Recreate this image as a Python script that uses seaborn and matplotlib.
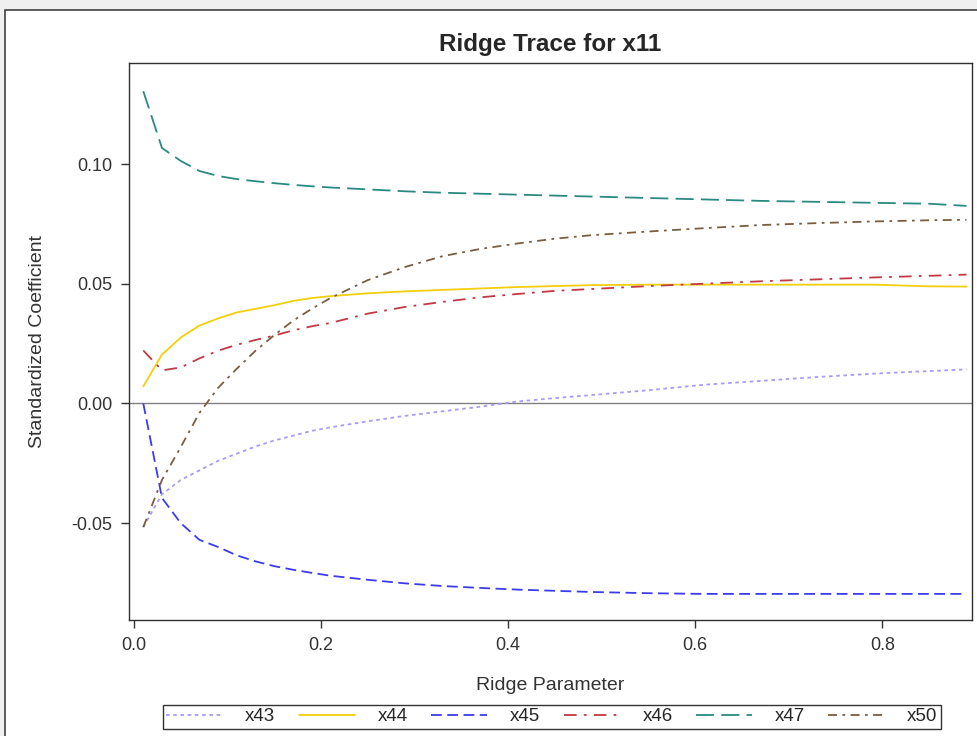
import pandas as pd
import matplotlib
matplotlib.use("Agg")
import matplotlib.pyplot as plt
import seaborn as sns
from matplotlib.patches import Rectangle

# ridge parameter values (x axis)
ridge_k = [0.01, 0.03, 0.05, 0.07, 0.09, 0.11, 0.13, 0.15, 0.17, 0.19, 0.21,
           0.25, 0.29, 0.33, 0.37, 0.41, 0.45, 0.49, 0.55, 0.61, 0.67, 0.73,
           0.79, 0.85, 0.89]

x43 = [-0.0517, -0.0380, -0.0320, -0.0280, -0.0240, -0.0210, -0.0180, -0.0155,
       -0.0135, -0.0115, -0.0100, -0.0075, -0.0052, -0.0033, -0.0014, 0.0008,
       0.0022, 0.0035, 0.0055, 0.0078, 0.0094, 0.0110, 0.0124, 0.0135, 0.0142]
x44 = [0.0071, 0.0204, 0.0275, 0.0325, 0.0355, 0.0380, 0.0395, 0.0410, 0.0428,
       0.0440, 0.0448, 0.0460, 0.0468, 0.0474, 0.0480, 0.0486, 0.0490, 0.0494,
       0.0496, 0.0496, 0.0496, 0.0496, 0.0496, 0.0489, 0.0488]
x45 = [0.0000, -0.0395, -0.0500, -0.0570, -0.0600, -0.0635, -0.0660, -0.0680,
       -0.0695, -0.0708, -0.0720, -0.0737, -0.0752, -0.0763, -0.0771, -0.0778,
       -0.0783, -0.0788, -0.0793, -0.0796, -0.0796, -0.0796, -0.0796, -0.0796,
       -0.0796]
x46 = [0.0221, 0.0138, 0.0150, 0.0188, 0.0220, 0.0245, 0.0265, 0.0283, 0.0305,
       0.0322, 0.0336, 0.0375, 0.0403, 0.0424, 0.0443, 0.0457, 0.0470, 0.0478,
       0.0490, 0.0500, 0.0510, 0.0518, 0.0526, 0.0533, 0.0538]
x47 = [0.1304, 0.1067, 0.1013, 0.0971, 0.0950, 0.0937, 0.0928, 0.0920, 0.0913,
       0.0907, 0.0902, 0.0894, 0.0886, 0.0880, 0.0876, 0.0872, 0.0868, 0.0864,
       0.0858, 0.0852, 0.0846, 0.0842, 0.0838, 0.0834, 0.0825]
x50 = [-0.0517, -0.0320, -0.0183, -0.0040, 0.0065, 0.0145, 0.0220, 0.0285,
       0.0345, 0.0395, 0.0440, 0.0515, 0.0570, 0.0615, 0.0645, 0.0668, 0.0688,
       0.0703, 0.0718, 0.0732, 0.0745, 0.0753, 0.0760, 0.0765, 0.0767]

variables = ["x43", "x44", "x45", "x46", "x47", "x50"]
series = [x43, x44, x45, x46, x47, x50]

colors = {"x43": "#a99cf2", "x44": "#f2cf0a", "x45": "#3c3cee",
          "x46": "#c23843", "x47": "#2a8a80", "x50": "#7a5e40"}
dashes = {"x43": (2, 2), "x44": "", "x45": (6, 3), "x46": (7, 4, 1.5, 4),
          "x47": (10, 4), "x50": (5, 3, 1.5, 3)}

rows = []
for name, vals in zip(variables, series):
    for k, v in zip(ridge_k, vals):
        rows.append({"k": k, "coef": v, "var": name})
df = pd.DataFrame(rows)

sns.set_style("ticks")
plt.rcParams["font.family"] = ["Liberation Sans", "DejaVu Sans"]

fig = plt.figure(figsize=(9.77, 7.36), dpi=100)
fig.patch.set_facecolor("#f0f0f0")
frame = Rectangle((5 / 977, -0.05), 1.1, 1 - 10 / 736 + 0.05,
                  transform=fig.transFigure, facecolor="white",
                  edgecolor="#404040", linewidth=1.2, zorder=-5)
fig.patches.append(frame)
ax = fig.add_axes([0.132, 0.1576, 0.863, 0.7568])
ax.set_zorder(1)
ax.patch.set_alpha(0)

ax.axhline(0, color="#808080", linewidth=1, zorder=1)
sns.lineplot(data=df, x="k", y="coef", hue="var", style="var",
             palette=colors, dashes=dashes, linewidth=1.3, ax=ax,
             hue_order=variables, style_order=variables)

ax.set_xlim(-0.0053, 0.896)
ax.set_ylim(-0.0905, 0.1422)
ax.set_xticks([0.0, 0.2, 0.4, 0.6, 0.8])
ax.set_xticklabels(["0.0", "0.2", "0.4", "0.6", "0.8"])
ax.set_yticks([-0.05, 0.0, 0.05, 0.10])
ax.set_yticklabels(["-0.05", "0.00", "0.05", "0.10"])
ax.tick_params(labelsize=13, length=6, width=1, colors="#333333", pad=6)
for s in ax.spines.values():
    s.set_visible(True)
    s.set_color("#303030")
    s.set_linewidth(1)

ax.set_title("Ridge Trace for x11", fontsize=17.5, fontweight="bold", pad=9)
ax.set_xlabel("Ridge Parameter", fontsize=14, color="#333333", labelpad=17)
ax.set_ylabel("Standardized Coefficient", fontsize=14, color="#333333", labelpad=18)

handles, labels = ax.get_legend_handles_labels()
ax.legend_.remove()
leg = fig.legend(handles, labels, loc="center", ncol=6,
                 bbox_to_anchor=(0.565, 0.026), fontsize=13.5, frameon=True,
                 fancybox=False, edgecolor="black", handlelength=3.0,
                 columnspacing=1.25, handletextpad=1.2, borderpad=0.2)
leg.get_frame().set_linewidth(1)

fig.savefig("out.png", dpi=100, facecolor=fig.get_facecolor())
